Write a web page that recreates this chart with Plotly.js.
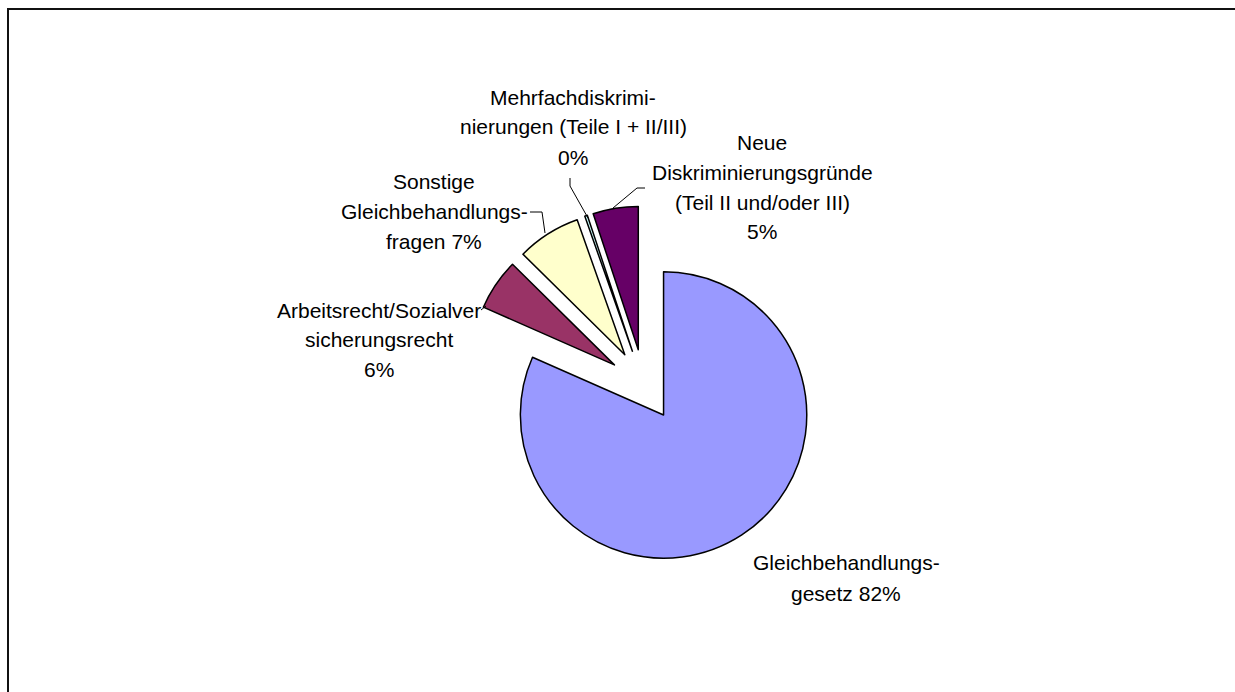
<!DOCTYPE html>
<html>
<head>
<meta charset="utf-8">
<script src="https://cdn.plot.ly/plotly-3.0.1.min.js"></script>
<style>
html,body{margin:0;padding:0;background:#fff;overflow:hidden;}
#wrap{position:relative;width:1235px;height:692px;overflow:hidden;}
#frame{position:absolute;left:7px;top:8px;width:1300px;height:800px;border-left:2px solid #111;border-top:2px solid #111;pointer-events:none;}
#chart{position:absolute;left:0;top:0;width:1235px;height:692px;}
</style>
</head>
<body>
<div id="wrap"><div id="chart"></div><div id="frame"></div></div>
<script>
// ---- data ----
const categories = [
  "Gleichbehandlungsgesetz",
  "Arbeitsrecht/Sozialversicherungsrecht",
  "Sonstige Gleichbehandlungsfragen",
  "Mehrfachdiskriminierungen (Teile I + II/III)",
  "Neue Diskriminierungsgründe (Teil II und/oder III)"
];
const values = [81.6, 5.8, 7.2, 0.3, 5.1];
const percentLabels = ["82%", "6%", "7%", "0%", "5%"];
const labelLines = [
  ["Gleichbehandlungs-", "gesetz 82%"],
  ["Arbeitsrecht/Sozialver", "sicherungsrecht", "6%"],
  ["Sonstige", "Gleichbehandlungs-", "fragen 7%"],
  ["Mehrfachdiskrimi-", "nierungen (Teile I + II/III)", "0%"],
  ["Neue", "Diskriminierungsgründe", "(Teil II und/oder III)", "5%"]
];

// ---- layout helpers ----
const W = 1235, H = 692;
const px = x => x / W;
const py = y => 1 - y / H;

const colors = ["#9999FF", "#993366", "#FFFFCC", "#CCFFFF", "#660066"];
const pullAmt = 0.25;
const cx = 644, cy = 385, half = 179;

// label block placement (center x, first-line center y, line step)
const labelPlace = [
  {x: 846, y: 562, step: 31},
  {x: 379, y: 310, step: 29.5},
  {x: 434, y: 181, step: 30.5},
  {x: 573, y: 97, step: 30},
  {x: 762, y: 142, step: 30}
];

const font = {family: "Liberation Sans, Arial, sans-serif", size: 21, color: "#000"};

const annotations = [];
labelLines.forEach((lines, i) => {
  const p = labelPlace[i];
  lines.forEach((t, k) => {
    annotations.push({
      xref: "paper", yref: "paper",
      x: px(p.x), y: py(p.y + k * p.step),
      xanchor: "center", yanchor: "middle",
      text: t, showarrow: false, font: font
    });
  });
});

function pathPx(pts) {
  return pts.map((p, i) => (i ? "L" : "M") + px(p[0]) + "," + py(p[1])).join(" ");
}
const lineStyle = {color: "#000", width: 1};
const leaderPaths = [
  [[570, 178], [570, 186], [588, 218]],
  [[645, 188], [637, 188], [613, 208]],
  [[530, 212], [542, 212], [545, 233]],
  [[481, 310], [486, 306]]
];
const shapes = leaderPaths.map(p => ({
  type: "path", xref: "paper", yref: "paper", path: pathPx(p), line: lineStyle
}));

const trace = {
  type: "pie",
  labels: categories,
  values: values,
  sort: false,
  direction: "clockwise",
  rotation: 0,
  pull: values.map(() => pullAmt),
  textinfo: "none",
  hoverinfo: "label+percent",
  marker: {colors: colors, line: {color: "#000", width: 1.5}},
  domain: {x: [px(cx - half), px(cx + half)], y: [py(cy + half), py(cy - half)]},
  showlegend: false
};

const layout = {
  width: W, height: H,
  margin: {l: 0, r: 0, t: 0, b: 0},
  paper_bgcolor: "#fff",
  plot_bgcolor: "#fff",
  showlegend: false,
  annotations: annotations,
  shapes: shapes,
  font: font
};

Plotly.newPlot("chart", [trace], layout, {displayModeBar: false, staticPlot: true});
</script>
</body>
</html>
